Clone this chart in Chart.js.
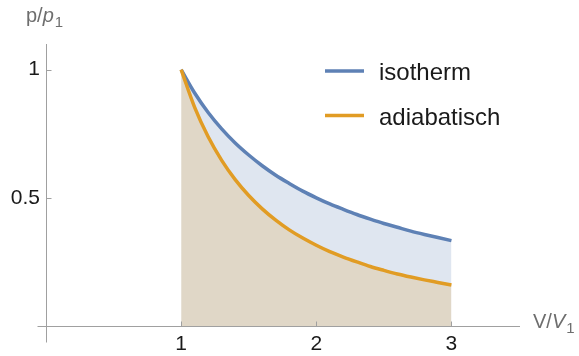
<!DOCTYPE html>
<html>
<head>
<meta charset="utf-8">
<script src="https://cdn.jsdelivr.net/npm/chart.js@4/dist/chart.umd.min.js"></script>
<style>
  html, body { margin: 0; padding: 0; background: #fff; }
  #wrap { width: 579px; height: 356px; }
</style>
</head>
<body>
<div id="wrap"><canvas id="diagramm"></canvas></div>
<script>
// ===============================
// DATEN (V/V1 und p/p1)
// ===============================

const volumen = [1.0, 1.1, 1.2, 1.3, 1.4, 1.5, 1.6, 1.7, 1.8, 1.9, 2.0,
                 2.1, 2.2, 2.3, 2.4, 2.5, 2.6, 2.7, 2.8, 2.9, 3.0];

const isotherme = [1.000, 0.909, 0.833, 0.769, 0.714, 0.667, 0.625, 0.588, 0.556, 0.526, 0.500,
                   0.476, 0.455, 0.435, 0.417, 0.400, 0.385, 0.370, 0.357, 0.345, 0.333];

const adiabate = [1.000, 0.853, 0.738, 0.646, 0.571, 0.509, 0.457, 0.413, 0.375, 0.343, 0.315,
                  0.290, 0.269, 0.250, 0.232, 0.217, 0.203, 0.191, 0.180, 0.170, 0.160];

const xTicks = [1, 2, 3];
const yTicks = [0.5, 1];
const serien = ["isotherm", "adiabatisch"];

const blau = "#5e81b5";
const orange = "#e19c24";
const achsenFarbe = "#a0a0a0";
const textFarbe = "#1a1a1a";
const titelFarbe = "#6e6e6e";
const schrift = "'Liberation Sans', Arial, sans-serif";


// ===============================
// ACHSEN-DETAILS, TITEL, LEGENDE
// ===============================

const extras = {
    id: "extras",
    afterDraw(chart) {
        const { ctx, scales: { x, y } } = chart;
        const x0 = Math.round(x.getPixelForValue(0)) + 0.5;
        const y0 = Math.round(y.getPixelForValue(0)) + 0.5;
        ctx.save();

        // Achsenüberstand und Tickmarken (nach innen)
        ctx.strokeStyle = achsenFarbe;
        ctx.lineWidth = 1;
        ctx.beginPath();
        ctx.moveTo(x0 - 9, y0); ctx.lineTo(x0, y0);
        ctx.moveTo(x0, y0); ctx.lineTo(x0, y0 + 16);
        xTicks.forEach(v => {
            const px = Math.round(x.getPixelForValue(v)) + 0.5;
            ctx.moveTo(px, y0); ctx.lineTo(px, y0 - 5);
        });
        yTicks.forEach(v => {
            const py = Math.round(y.getPixelForValue(v)) + 0.5;
            ctx.moveTo(x0, py); ctx.lineTo(x0 + 5, py);
        });
        ctx.stroke();

        // Achsentitel
        ctx.fillStyle = titelFarbe;
        ctx.textBaseline = "alphabetic";
        ctx.textAlign = "left";
        const titel = (tx, ty, a, b) => {
            ctx.font = "20px " + schrift;
            ctx.fillText(a, tx, ty);
            let w = ctx.measureText(a).width;
            ctx.font = "italic 20px " + schrift;
            ctx.fillText(b, tx + w, ty);
            w += ctx.measureText(b).width;
            ctx.font = "15px " + schrift;
            ctx.fillText("1", tx + w + 1, ty + 5);
        };
        titel(26, 22, "p/", "p");
        titel(533, 328, "V/", "V");

        // Legende
        const ds = chart.data.datasets;
        ds.forEach((d, i) => {
            const ly = 71 + i * 44.5;
            ctx.strokeStyle = d.borderColor;
            ctx.lineWidth = 3.5;
            ctx.beginPath();
            ctx.moveTo(325, ly); ctx.lineTo(364, ly);
            ctx.stroke();
            ctx.fillStyle = textFarbe;
            ctx.font = "24px " + schrift;
            ctx.fillText(d.label, 379, ly + 9);
        });

        ctx.restore();
    }
};


// ===============================
// DIAGRAMM
// ===============================

new Chart(document.getElementById("diagramm"), {
    type: "line",
    data: {
        labels: volumen,
        datasets: [{
            label: serien[0],
            data: isotherme,
            borderColor: blau,
            backgroundColor: "rgba(94, 129, 181, 0.2)",
            borderWidth: 3.5,
            fill: "origin",
            order: 2
        }, {
            label: serien[1],
            data: adiabate,
            borderColor: orange,
            backgroundColor: "rgba(225, 156, 36, 0.2)",
            borderWidth: 3.5,
            fill: "origin",
            order: 1
        }]
    },
    options: {
        responsive: true,
        maintainAspectRatio: false,
        animation: false,
        layout: { padding: { top: 44, right: 60, left: 0, bottom: 0 } },
        elements: {
            point: { radius: 0 },
            line: { cubicInterpolationMode: "monotone" }
        },
        plugins: {
            legend: { display: false },
            tooltip: { enabled: false },
            filler: { drawTime: "beforeDatasetsDraw" }
        },
        scales: {
            x: {
                type: "linear",
                min: 0,
                max: 3.5,
                afterFit: s => { s.height = 30; },
                afterBuildTicks: s => { s.ticks = xTicks.map(v => ({ value: v })); },
                grid: { display: false, drawTicks: false },
                border: { display: true, color: achsenFarbe, width: 1 },
                ticks: {
                    padding: 6,
                    color: textFarbe,
                    font: { family: schrift, size: 21 }
                }
            },
            y: {
                type: "linear",
                min: 0,
                max: 1.1,
                afterFit: s => { s.width = 46; },
                afterBuildTicks: s => { s.ticks = yTicks.map(v => ({ value: v })); },
                grid: { display: false, drawTicks: false },
                border: { display: true, color: achsenFarbe, width: 1 },
                ticks: {
                    padding: 6,
                    color: textFarbe,
                    font: { family: schrift, size: 21 },
                    callback: v => String(v)
                }
            }
        }
    },
    plugins: [extras]
});
</script>
</body>
</html>
